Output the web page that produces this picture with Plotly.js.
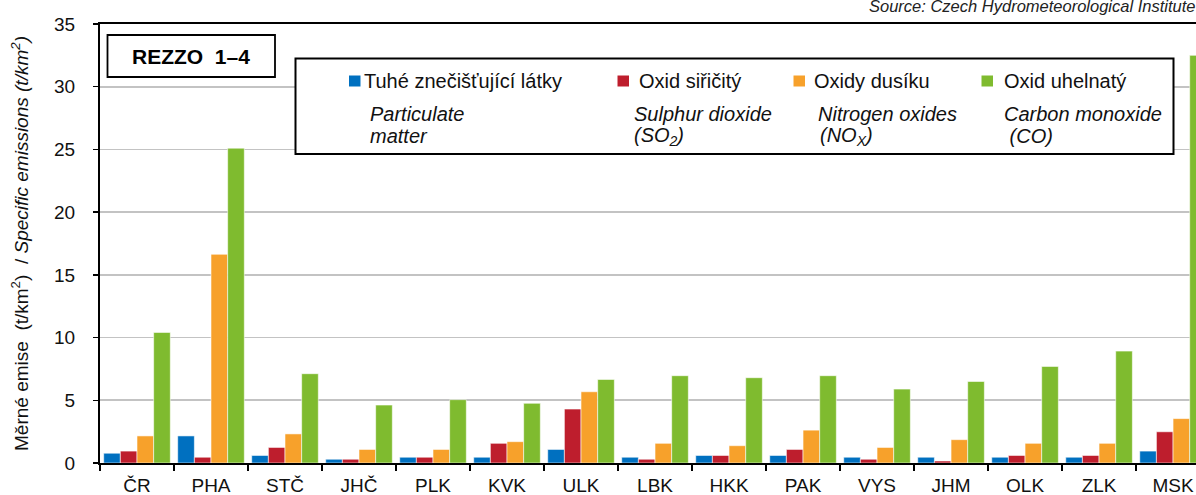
<!DOCTYPE html>
<html>
<head>
<meta charset="utf-8">
<script src="https://cdn.plot.ly/plotly-3.0.1.min.js"></script>
<style>html,body{margin:0;padding:0;background:#fff;}#chart{width:1196px;height:495px;}</style>
</head>
<body>
<div id="chart"></div>
<script>
// Categories (regions) and series values, t/km2
const categories = ['ČR','PHA','STČ','JHČ','PLK','KVK','ULK','LBK','HKK','PAK','VYS','JHM','OLK','ZLK','MSK'];
const particulate = [0.78, 2.16, 0.60, 0.30, 0.46, 0.46, 1.08, 0.46, 0.60, 0.60, 0.46, 0.46, 0.46, 0.46, 0.95];
const sulphurDioxide = [0.95, 0.46, 1.24, 0.30, 0.46, 1.57, 4.30, 0.30, 0.60, 1.08, 0.30, 0.16, 0.60, 0.60, 2.49];
const nitrogenOxides = [2.16, 16.64, 2.32, 1.08, 1.08, 1.70, 5.68, 1.57, 1.38, 2.62, 1.24, 1.86, 1.57, 1.57, 3.54];
const carbonMonoxide = [10.41, 25.1, 7.12, 4.62, 5.05, 4.76, 6.66, 6.96, 6.80, 6.96, 5.89, 6.50, 7.70, 8.92, 32.5];

const seriesNamesCz = ['Tuhé znečišťující látky', 'Oxid siřičitý', 'Oxidy dusíku', 'Oxid uhelnatý'];
const seriesNamesEnLine1 = ['Particulate', 'Sulphur dioxide', 'Nitrogen oxides', 'Carbon monoxide'];
const seriesNamesEnLine2 = ['matter', '(SO<sub>2</sub>)', '(NO<sub>X</sub>)', ' (CO)'];
const colors = ['#0070C0', '#BE1E2D', '#F7A12B', '#7FBB2F'];
const seriesValues = [particulate, sulphurDioxide, nitrogenOxides, carbonMonoxide];

const FONT = 'Liberation Sans, Arial, sans-serif';
const W = 1196, H = 495;
const M = {l: 100, r: 0, t: 24, b: 32};
const PW = W - M.l - M.r, PH = H - M.t - M.b;
const px = x => (x - M.l) / PW;
const py = y => (H - M.b - y) / PH;

const traces = seriesValues.map((vals, i) => ({
  type: 'bar',
  x: categories,
  y: vals,
  name: seriesNamesCz[i],
  marker: {color: colors[i], line: {color: 'rgba(255,255,255,0.7)', width: 0.8}},
  hoverinfo: 'x+y+name'
}));

const shapes = [];
const annotations = [];

// REZZO box
shapes.push({type: 'rect', xref: 'paper', yref: 'paper', layer: 'above',
  x0: px(107.5), x1: px(275), y0: py(77), y1: py(35),
  line: {color: '#000', width: 1.8}, fillcolor: '#fff'});
annotations.push({xref: 'paper', yref: 'paper', x: px(191), y: py(56), xanchor: 'center', yanchor: 'middle',
  text: '<b>REZZO  1–4</b>', showarrow: false, font: {family: FONT, size: 21, color: '#000'}, borderpad: 0, borderwidth: 0});

// Legend box
shapes.push({type: 'rect', xref: 'paper', yref: 'paper', layer: 'above',
  x0: px(295.5), x1: px(1173.5), y0: py(154), y1: py(58.5),
  line: {color: '#000', width: 2}, fillcolor: '#fff'});

const squareX = [349, 617.5, 793.5, 981.5];
const czX = [364, 639, 814, 1004];
const en1X = [370, 634, 817.5, 1004];
const en2X = [370, 634, 820, 1004];
for (let i = 0; i < 4; i++) {
  shapes.push({type: 'rect', xref: 'paper', yref: 'paper', layer: 'above',
    x0: px(squareX[i]), x1: px(squareX[i] + 11.5), y0: py(86.5), y1: py(75.5),
    line: {width: 0}, fillcolor: colors[i]});
  annotations.push({xref: 'paper', yref: 'paper', x: px(czX[i]), y: py(81), xanchor: 'left', yanchor: 'middle',
    text: seriesNamesCz[i], showarrow: false, font: {family: FONT, size: 20, color: '#111'}, borderpad: 0, borderwidth: 0});
  annotations.push({xref: 'paper', yref: 'paper', x: px(en1X[i]), y: py(114), xanchor: 'left', yanchor: 'middle',
    text: '<i>' + seriesNamesEnLine1[i] + '</i>', showarrow: false, font: {family: FONT, size: 20, color: '#111'}, borderpad: 0, borderwidth: 0});
  annotations.push({xref: 'paper', yref: 'paper', x: px(en2X[i]), y: py(136), xanchor: 'left', yanchor: 'middle',
    text: '<i>' + seriesNamesEnLine2[i] + '</i>', showarrow: false, font: {family: FONT, size: 20, color: '#111'}, borderpad: 0, borderwidth: 0});
}

// Source note (partly cut off at the top edge, as in the reference)
annotations.push({xref: 'paper', yref: 'paper', x: px(1196), y: py(6), xanchor: 'right', yanchor: 'middle',
  text: '<i>Source: Czech Hydrometeorological Institute</i>', showarrow: false,
  font: {family: FONT, size: 16.5, color: '#222'}, borderpad: 0, borderwidth: 0});

const layout = {
  width: W, height: H,
  margin: M,
  paper_bgcolor: '#fff', plot_bgcolor: '#fff',
  font: {family: FONT, color: '#111'},
  showlegend: false,
  barmode: 'group', bargap: 0.1, bargroupgap: 0,
  xaxis: {
    type: 'category',
    range: [-0.5, 14.31],
    tickson: 'boundaries',
    ticks: 'outside', ticklen: 6, tickwidth: 1.5, tickcolor: '#000',
    showline: true, linecolor: '#000', linewidth: 2, mirror: true,
    showgrid: false, zeroline: false,
    tickfont: {family: FONT, size: 19, color: '#111'},
    ticklabelstandoff: 4,
    automargin: false, fixedrange: true
  },
  yaxis: {
    range: [0, 35],
    tickvals: [0, 5, 10, 15, 20, 25, 30, 35],
    ticks: 'outside', ticklen: 5, tickwidth: 1.5, tickcolor: '#000',
    showline: true, linecolor: '#000', linewidth: 2,
    showgrid: true, gridcolor: '#C3C3C3', gridwidth: 1.6,
    zeroline: false,
    tickfont: {family: FONT, size: 19, color: '#111'},
    ticklabelstandoff: 14,
    title: {text: 'Měrné emise  (t/km<sup>2</sup>)  / <i>Specific emissions (t/km<sup>2</sup>)</i>',
      font: {family: FONT, size: 19, color: '#111'}, standoff: 20},
    automargin: false, fixedrange: true
  },
  shapes: shapes,
  annotations: annotations
};

Plotly.newPlot('chart', traces, layout, {displayModeBar: false, staticPlot: true});
</script>
</body>
</html>
